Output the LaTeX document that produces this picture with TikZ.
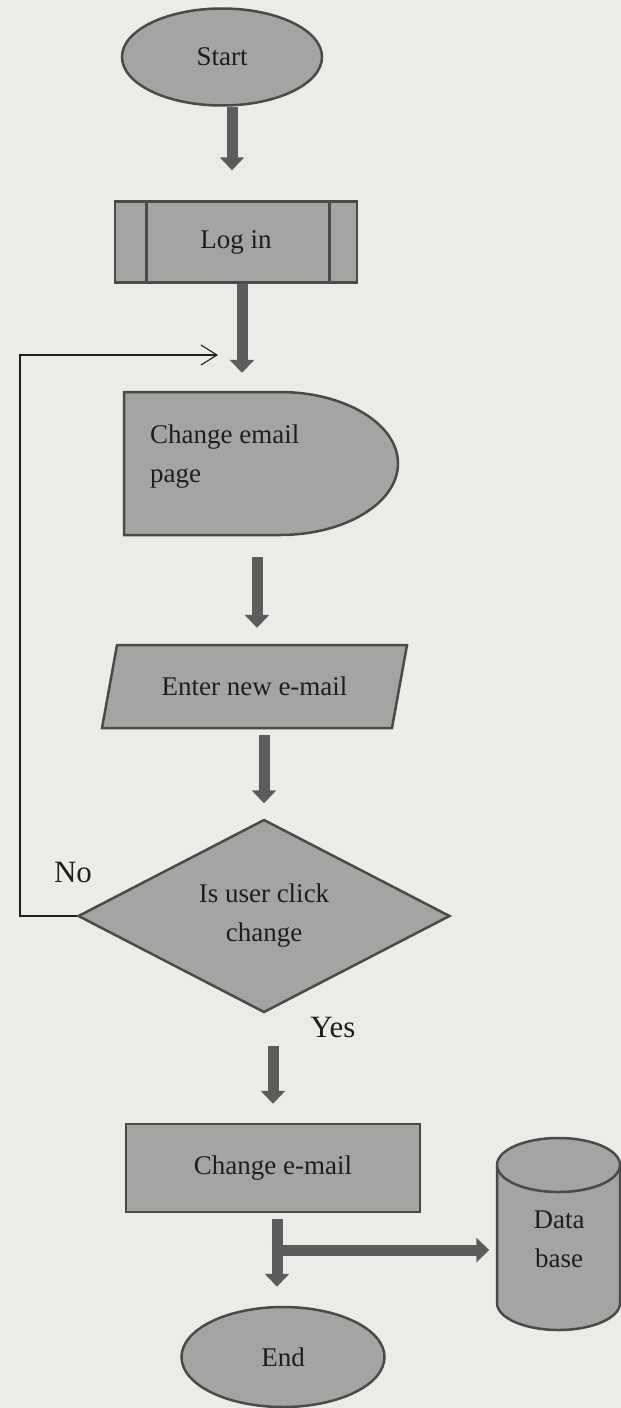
\documentclass[tikz,border=0pt]{standalone}
\usepackage{fontspec}
\setmainfont{Liberation Serif}
\usetikzlibrary{shapes.geometric,arrows.meta,calc}
\definecolor{paper}{HTML}{EBEBE8}
\definecolor{boxfill}{HTML}{A4A4A2}
\definecolor{boxline}{HTML}{4A4A4A}
\definecolor{shaft}{HTML}{5C5C5C}
\definecolor{ink}{HTML}{1E1E1E}
\tikzset{
  shapestyle/.style={fill=boxfill, draw=boxline, line width=2.5pt},
  lbl/.style={text=ink, font=\fontsize{27}{39}\selectfont, inner sep=0pt},
  side/.style={text=ink, font=\fontsize{31}{36}\selectfont, inner sep=0pt},
  blk/.style={draw=shaft, line width=11pt, -{Triangle[width=24pt,length=13pt]}},
  loopline/.style={draw=ink, line width=1.1pt, -{Straight Barb[length=16pt,width=20pt]}}
}
\begin{document}
\begin{tikzpicture}[x=1pt,y=-1pt]
  \fill[paper] (0,0) rectangle (621,1408);
  \useasboundingbox (0,0) rectangle (621,1408);

  % terminator
  \node[ellipse, shapestyle, minimum width=200pt, minimum height=97pt, lbl] (start) at (222,57) {Start};

  % predefined process: login
  \node[rectangle, shapestyle, minimum width=242pt, minimum height=81pt, lbl] (login) at (236,242) {Log in};
  \draw[boxline, line width=3pt] ($(login.north west)+(33,0)$) -- ($(login.south west)+(33,0)$);
  \draw[boxline, line width=3pt] ($(login.north east)+(-29,0)$) -- ($(login.south east)+(-29,0)$);

  % delay shape: change email page
  \filldraw[shapestyle] (124,535) -- (124,392) -- (280,392)
    .. controls (345,392) and (398,424) .. (398,463.5)
    .. controls (398,503) and (345,535) .. (280,535) -- cycle;
  \node[minimum width=274pt, minimum height=143pt, inner sep=0pt] (page) at (261,463.5) {};
  \node[lbl, align=left, anchor=west] (pagetxt) at (150,457) {Change email\\page};

  % input: new e-mail
  \filldraw[shapestyle] (117,645) -- (407,645) -- (392,728) -- (102,728) -- cycle;
  \node[minimum width=290pt, minimum height=83pt, lbl] (enter) at (254.5,686.5) {Enter new e-mail};

  % decision
  \node[diamond, aspect=1.93, shapestyle, minimum width=372pt, minimum height=193pt, lbl, align=center] (dia) at (264,916) {Is user click\\change};
  \node[side] (no) at (73,872) {No};
  \node[side] (yes) at (333,1027) {Yes};

  % process: change e-mail
  \node[rectangle, shapestyle, minimum width=294pt, minimum height=88pt, lbl] (chg) at (273,1168) {Change e-mail};

  % database cylinder
  \filldraw[shapestyle] (497,1165) -- (497,1303)
    .. controls (497,1317.9) and (524.5,1330) .. (558.5,1330)
    .. controls (592.5,1330) and (620,1317.9) .. (620,1303) -- (620,1165)
    .. controls (620,1150.1) and (592.5,1138) .. (558.5,1138)
    .. controls (524.5,1138) and (497,1150.1) .. (497,1165) -- cycle;
  \draw[boxline, line width=2.5pt] (497,1165)
    .. controls (497,1179.9) and (524.5,1192) .. (558.5,1192)
    .. controls (592.5,1192) and (620,1179.9) .. (620,1165);
  \node[minimum width=123pt, minimum height=192pt, lbl, align=center] (db) at (559,1239) {Data\\base};

  % terminator
  \node[ellipse, shapestyle, minimum width=203pt, minimum height=100pt, lbl] (endn) at (283,1357) {End};

  % flow arrows
  \draw[blk, shorten >=30pt] ($(start.south)+(10,0)$) -- ($(start.south|-login.north)+(10,0)$);
  \draw[blk, shorten >=19pt] ($(login.south)+(6,0)$) -- ($(login.south|-page.north)+(6,0)$);
  \draw[blk, shorten <=22pt, shorten >=17pt] ($(page.south)+(-4,0)$) -- ($(page.south|-enter.north)+(-4,0)$);
  \draw[blk, shorten <=7pt, shorten >=15pt] ($(enter.south)+(9.5,0)$) -- ($(enter.south|-dia.north)+(9.5,0)$);
  \draw[blk, shorten <=32pt, shorten >=19pt] ($(dia.south)+(9,0)$) -- ($(dia.south|-chg.north)+(9,0)$);
  \draw[blk, shorten <=6pt, shorten >=19pt] ($(chg.south)+(4,0)$) -- ($(chg.south|-endn.north)+(4,0)$);
  \coordinate (br) at (271.5,1250);
  \draw[blk, shorten >=8pt] (br) -- (br -| db.west);

  % "No" loop back
  \coordinate (fbx) at (20,355);
  \coordinate (fbend) at (218,355);
  \draw[loopline] (dia.west) -| (fbx) -- (fbend);
\end{tikzpicture}
\end{document}
